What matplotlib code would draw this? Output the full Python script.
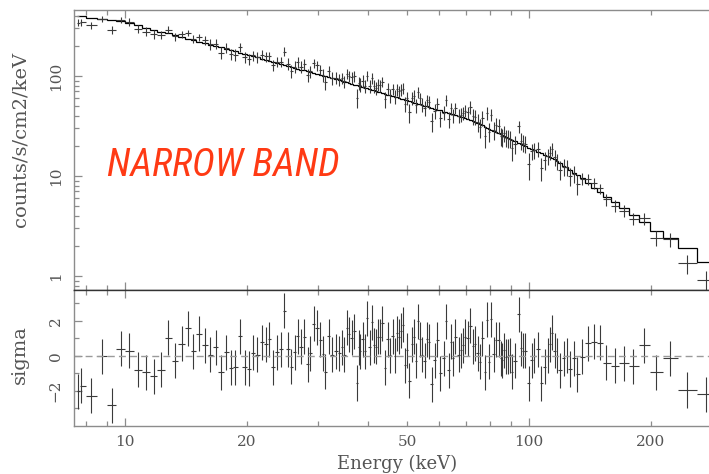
import numpy as np
import matplotlib
matplotlib.use("Agg")
import matplotlib.pyplot as plt
from matplotlib.ticker import FixedLocator, FuncFormatter

# bin centres (keV)
energy = [
    7.67, 7.80, 8.25, 8.76, 9.27, 9.76, 10.25, 10.75, 11.29, 11.78,
    12.28, 12.80, 13.28, 13.82, 14.30, 14.76, 15.27, 15.78, 16.23, 16.77,
    17.29, 17.78, 18.30, 18.75, 19.29, 19.78, 20.31, 20.78, 21.26, 21.80,
    22.30, 22.76, 23.28, 23.78, 24.29, 24.79, 25.32, 25.80, 26.30, 26.76,
    27.27, 27.78, 28.33, 28.75, 29.36, 29.87, 30.39, 30.91, 31.32, 31.93,
    32.54, 33.29, 33.92, 34.39, 34.90, 35.44, 35.91, 36.40, 36.95, 37.52,
    37.88, 38.23, 38.76, 39.34, 39.79, 40.33, 40.80, 41.26, 41.74, 42.29,
    42.77, 43.26, 44.08, 44.69, 45.36, 45.98, 46.51, 47.12, 47.74, 48.29,
    48.85, 49.40, 49.89, 50.54, 51.33, 51.92, 52.51, 53.20, 53.81, 54.43,
    55.18, 55.81, 56.55, 57.52, 58.42, 59.29, 60.21, 61.60, 62.41, 63.27,
    64.00, 64.95, 65.69, 66.98, 67.87, 68.64, 69.55, 70.51, 71.56, 72.67,
    73.63, 74.64, 75.63, 76.62, 77.81, 78.84, 79.74, 80.66, 81.77, 82.99,
    84.14, 85.10, 85.74, 86.87, 87.87, 88.72, 89.59, 90.61, 92.49, 94.30,
    95.55, 96.64, 97.75, 100.0, 101.7, 102.9, 105.1, 107.3, 109.4, 111.2,
    112.7, 114.0, 115.8, 117.5, 119.1, 122.1, 124.0, 126.3, 129.3, 131.7,
    135.3, 140.0, 144.6, 149.6, 155.4, 163.0, 171.6, 181.2, 192.6, 206.6,
    223.0, 246.5, 274.8,
]

# folded model, counts/s/cm2/keV in each bin
model = [
    397.5, 393.9, 382.7, 371.3, 360.5, 351.2, 337.8, 320.9, 304.5, 291.0,
    278.3, 266.2, 256.0, 245.3, 236.4, 228.5, 220.3, 212.7, 206.4, 199.3,
    192.9, 187.1, 181.5, 176.8, 171.5, 166.7, 161.8, 157.7, 153.7, 149.4,
    145.5, 142.2, 138.6, 135.3, 132.1, 129.1, 126.0, 123.4, 120.7, 118.4,
    115.9, 113.5, 111.0, 109.2, 106.6, 104.6, 102.6, 100.6, 99.1, 97.0,
    94.9, 92.5, 90.6, 89.2, 87.7, 86.2, 84.9, 83.5, 82.0, 80.5,
    79.6, 78.7, 77.4, 76.0, 75.0, 73.7, 72.7, 71.7, 70.7, 69.6,
    68.6, 67.7, 66.1, 65.1, 63.9, 62.8, 62.0, 61.0, 60.0, 59.2,
    58.4, 57.6, 56.9, 56.0, 54.9, 54.2, 53.4, 52.6, 51.9, 51.1,
    50.3, 49.6, 48.8, 47.8, 46.9, 46.1, 45.2, 44.0, 43.3, 42.6,
    42.0, 41.3, 40.7, 39.7, 39.1, 38.6, 38.0, 37.3, 36.6, 35.5,
    34.6, 33.7, 32.9, 32.0, 31.1, 30.3, 29.6, 29.0, 28.2, 27.4,
    26.7, 26.1, 25.7, 25.1, 24.5, 24.1, 23.6, 23.1, 22.2, 21.4,
    20.8, 20.35, 19.9, 19.05, 18.45, 18.1, 17.4, 16.8, 16.2, 15.7,
    15.36, 15.05, 14.65, 14.16, 13.62, 12.72, 12.18, 11.55, 10.83, 10.27,
    9.49, 8.50, 7.66, 6.86, 6.16, 5.46, 4.79, 4.06, 3.47, 2.82,
    2.38, 1.89, 1.37,
]

# residuals (data - model) / error
sigma = [
    -2.02, -1.73, -2.30, -0.04, -2.82, 0.40, 0.27, -0.80, -0.95, -1.18,
    -0.80, 1.03, -0.30, 0.67, 1.56, 0.25, 1.24, 0.61, 0.04, 0.48,
    -0.95, 0.21, -0.70, -0.65, 1.12, -0.65, -0.74, 0.17, 0.04, 0.76,
    0.65, 0.95, -0.65, 0.21, 0.36, 2.57, 0.36, -0.63, 0.21, 1.12,
    0.51, 1.07, -0.50, 0.13, 1.83, 1.60, 0.90, 0.11, -0.91, 1.12,
    0.04, 0.25, 0.13, 0.48, 0.04, 1.60, 1.22, 1.03, 1.39, -1.56,
    0.48, 0.25, 0.93, 0.25, 2.13, 0.48, 1.90, 0.61, 0.51, 1.07,
    1.09, 1.85, -0.70, 0.93, 0.02, 1.12, 0.00, 1.28, 1.09, 1.43,
    1.77, -0.55, 0.32, -1.43, 0.65, 1.09, -0.30, 1.96, 0.95, 0.04,
    -0.30, 0.93, 0.80, -1.62, -0.25, 0.90, -1.01, -0.15, 1.98, -0.82,
    0.80, -0.15, 1.09, 0.04, 0.32, 0.61, 1.09, 0.99, 1.70, 0.55,
    0.67, 0.13, -0.34, 0.99, -0.95, 2.04, -0.34, 2.08, 0.08, 0.90,
    0.90, -0.15, -0.25, 0.32, -0.06, -0.02, 0.02, -0.91, -0.29, 2.36,
    0.42, 0.29, 0.29, -1.58, -0.25, 0.00, 0.36, -1.58, -0.63, 0.00,
    0.65, 1.31, 0.27, 0.00, -0.82, -0.15, 0.00, -0.76, -0.15, -1.05,
    -0.06, 0.70, 0.80, 0.74, -0.40, -0.57, -0.44, -0.59, 0.59, -0.95,
    -0.15, -1.96, -2.21,
]

# relative 1-sigma error of each bin
rel_err = [
    0.07, 0.07, 0.07, 0.07, 0.07, 0.07, 0.09, 0.09, 0.09, 0.09,
    0.09, 0.09, 0.09, 0.09, 0.09, 0.09, 0.09, 0.12, 0.12, 0.12,
    0.12, 0.12, 0.12, 0.12, 0.12, 0.12, 0.12, 0.12, 0.12, 0.12,
    0.12, 0.12, 0.12, 0.12, 0.12, 0.14, 0.14, 0.14, 0.14, 0.14,
    0.14, 0.14, 0.14, 0.14, 0.14, 0.14, 0.14, 0.14, 0.14, 0.14,
    0.14, 0.14, 0.14, 0.14, 0.14, 0.14, 0.14, 0.16, 0.16, 0.16,
    0.16, 0.16, 0.16, 0.16, 0.16, 0.16, 0.16, 0.16, 0.16, 0.16,
    0.16, 0.16, 0.16, 0.16, 0.16, 0.16, 0.16, 0.16, 0.16, 0.16,
    0.16, 0.16, 0.16, 0.16, 0.16, 0.16, 0.16, 0.16, 0.16, 0.16,
    0.16, 0.16, 0.16, 0.16, 0.16, 0.16, 0.16, 0.16, 0.16, 0.16,
    0.16, 0.16, 0.16, 0.16, 0.16, 0.16, 0.16, 0.16, 0.20, 0.20,
    0.20, 0.20, 0.20, 0.20, 0.20, 0.20, 0.20, 0.20, 0.20, 0.20,
    0.20, 0.20, 0.20, 0.20, 0.20, 0.20, 0.20, 0.20, 0.20, 0.20,
    0.20, 0.20, 0.20, 0.20, 0.18, 0.18, 0.18, 0.18, 0.18, 0.18,
    0.18, 0.18, 0.18, 0.18, 0.18, 0.18, 0.18, 0.18, 0.18, 0.18,
    0.13, 0.13, 0.13, 0.13, 0.13, 0.13, 0.13, 0.13, 0.15, 0.15,
    0.15, 0.15, 0.15,
]

E = np.array(energy)
m = np.array(model)
r = np.array(sigma)
err = m * np.array(rel_err)
counts = m + r * err

# bin edges: halfway in log between neighbouring centres
mid = np.sqrt(E[1:] * E[:-1])
edges = np.concatenate([[E[0] ** 2 / mid[0]], mid, [E[-1] ** 2 / mid[-1]]])
xerr = [E - edges[:-1], edges[1:] - E]

W, H = 709, 474
fig = plt.figure(figsize=(W / 100, H / 100), dpi=100)
ax1 = fig.add_axes([74 / W, 1 - 290 / H, 638 / W, 280 / H])
ax2 = fig.add_axes([74 / W, 1 - 426 / H, 638 / W, 136 / H])

grey = "#8c8c8c"
txt = "#555555"
serif = "DejaVu Serif"
bars = "#3a3a3a"

# top panel: spectrum + model
ax1.errorbar(E, counts, xerr=xerr, yerr=err, fmt="none",
             ecolor=bars, elinewidth=0.8, capsize=0)
ax1.stairs(m, edges, baseline=None, color="black", lw=0.9)
ax1.set_xscale("log")
ax1.set_yscale("log")
ax1.set_ylim(0.7244, 457)

# bottom panel: residuals
ax2.errorbar(E, r, xerr=xerr, yerr=1.0, fmt="none",
             ecolor=bars, elinewidth=0.8, capsize=0)
ax2.axhline(0, color="#9a9a9a", lw=1.0, dashes=(5, 3))
ax2.set_xscale("log")
ax2.set_ylim(-4.017, 3.754)

for ax in (ax1, ax2):
    ax.set_xlim(7.477, 283.8)
    ax.xaxis.set_major_locator(FixedLocator([10, 100]))
    ax.xaxis.set_minor_locator(FixedLocator([8, 9, 20, 30, 40, 50, 60, 70, 80, 90, 200]))
    ax.tick_params(which="both", direction="in", top=True, bottom=True,
                   left=True, right=False, color=grey, width=0.9,
                   labelcolor=txt, labelsize=11)
    ax.tick_params(which="major", length=6.0)
    ax.tick_params(which="minor", length=3.4)
    ax.tick_params(axis="x", which="both", pad=6.5)
    ax.tick_params(axis="y", which="both", pad=8, labelrotation=90)
    for s in ax.spines.values():
        s.set_color(grey)
        s.set_linewidth(1.0)

ax1.spines["bottom"].set_color("#333333")
ax2.spines["top"].set_color("#333333")

ax1.yaxis.set_major_locator(FixedLocator([1, 10, 100]))
ax1.yaxis.set_minor_locator(FixedLocator(
    [0.8, 0.9, 2, 3, 4, 5, 6, 7, 8, 9, 20, 30, 40, 50, 60, 70, 80, 90,
     200, 300, 400]))
ax1.yaxis.set_major_formatter(FuncFormatter(lambda v, p: f"{v:g}"))
ax1.yaxis.set_minor_formatter(FuncFormatter(lambda v, p: ""))
ax1.tick_params(axis="x", which="both", labelbottom=False)

ax2.yaxis.set_major_locator(FixedLocator([-2, 0, 2]))
ax2.yaxis.set_minor_locator(FixedLocator([-3, -1, 1, 3]))
ax2.yaxis.set_major_formatter(FuncFormatter(lambda v, p: f"{v:g}".replace("-", "\u2212")))
ax2.xaxis.set_major_formatter(FuncFormatter(lambda v, p: f"{v:g}"))
ax2.xaxis.set_minor_formatter(FuncFormatter(lambda v, p: f"{v:g}" if round(v) in (20, 50, 200) else ""))

for ax in (ax1, ax2):
    for lbl in ax.get_yticklabels():
        lbl.set_va("center")
        lbl.set_family(serif)
    for lbl in ax.get_xticklabels(which="both"):
        lbl.set_family(serif)

ax1.set_ylabel("counts/s/cm2/keV", family=serif, fontsize=14, color=txt)
ax1.yaxis.set_label_coords(-0.0705, 0.539)
ax2.set_ylabel("sigma", family=serif, fontsize=14, color=txt)
ax2.yaxis.set_label_coords(-0.0705, 0.522)
ax2.set_xlabel("Energy (keV)", family=serif, fontsize=13, color=txt)
ax2.xaxis.set_label_coords(0.5058, -0.213)

fig.text(107 / W, 1 - 176 / H, "NARROW BAND", fontsize=28, style="italic",
         fontstretch="condensed", color="#ff3a14",
         family=["Roboto Condensed", "Liberation Sans Narrow", "Liberation Sans"],
         ha="left", va="baseline")

fig.savefig("out.png", dpi=100)
